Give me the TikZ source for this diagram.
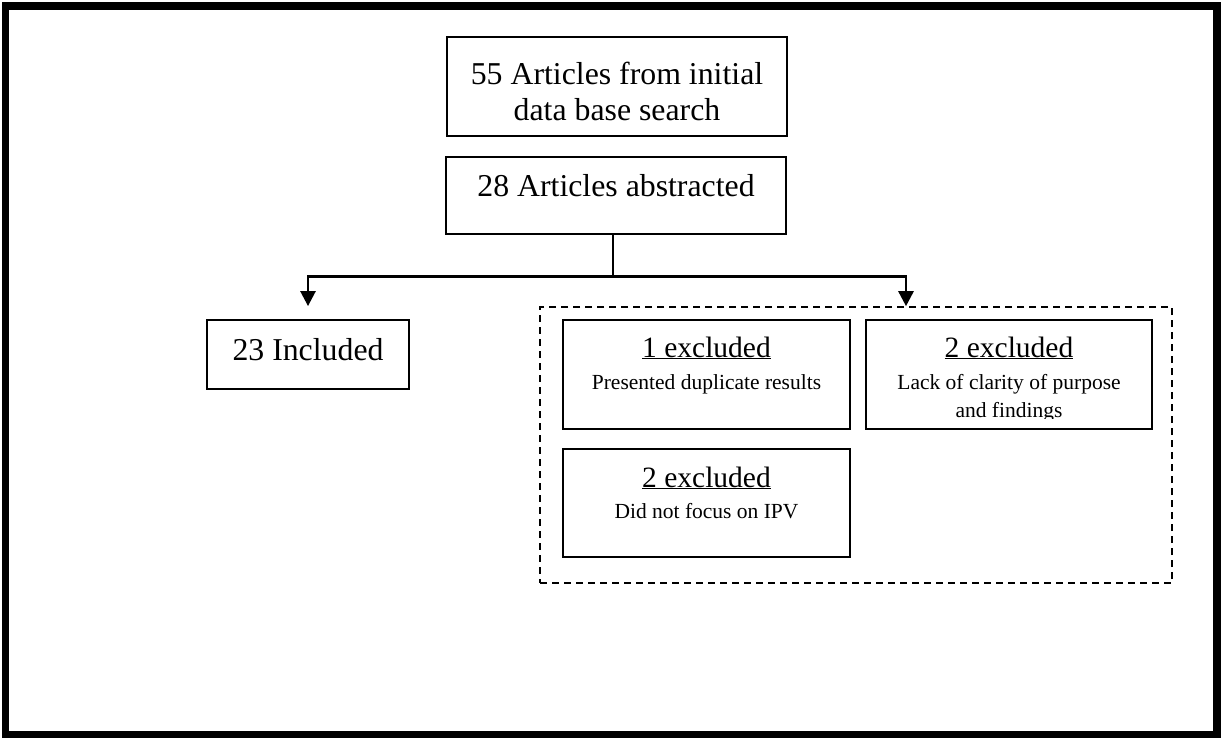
\documentclass[tikz,border=0pt]{standalone}
\usepackage{fontspec}
\setmainfont{Liberation Serif}
\usetikzlibrary{arrows.meta,calc}
\begin{document}
\begin{tikzpicture}[x=1pt,y=-1pt,
  box/.style={draw, line width=1.8pt, inner sep=0pt},
  bigtxt/.style={font=\fontsize{31.8}{36}\selectfont, anchor=base, inner sep=0pt},
  headtxt/.style={font=\fontsize{29.5}{34}\selectfont, anchor=base, inner sep=0pt},
  smalltxt/.style={font=\fontsize{21.5}{26}\selectfont, anchor=base, inner sep=0pt},
  link/.style={line width=2.6pt},
  arr/.style={link, -{Triangle[width=15pt,length=15pt]}},
  grpbox/.style={draw, line width=1.6pt, dash pattern=on 7pt off 5pt, inner sep=0pt}]
\useasboundingbox (0,0) rectangle (1221,738);
\fill[white] (0,0) rectangle (1221,738);
\draw[line width=7.5pt] (5.5,6) rectangle (1217,735);

% top boxes
\node[box, minimum width=340pt, minimum height=99pt] (search) at (617,86.5) {};
\node[bigtxt] (searchA) at (617,85) {55 Articles from initial};
\node[bigtxt] (searchB) at (617,121) {data base search};

\node[box, minimum width=340pt, minimum height=77pt] (abstr) at (616,195.5) {};
\node[bigtxt] (abstrT) at (616,197) {28 Articles abstracted};

% included
\node[box, minimum width=202pt, minimum height=69pt] (incl) at (308,354.5) {};
\node[bigtxt] (inclT) at (308,360) {23 Included};

% excluded group
\node[grpbox, minimum width=632pt, minimum height=276pt] (grp) at (856,445) {};

\node[box, minimum width=287pt, minimum height=109pt] (ex1) at (706.5,374.5) {};
\node[headtxt] (ex1h) at (706.5,357) {\underline{1 excluded}};
\node[smalltxt] (ex1t) at (706.5,389) {Presented duplicate results};

\node[box, minimum width=286pt, minimum height=109pt] (ex2) at (1009,374.5) {};
\node[headtxt] (ex2h) at (1009,357) {\underline{2 excluded}};
\node[smalltxt] (ex2t) at (1009,389) {Lack of clarity of purpose};
\begin{scope}
  \clip (866,320) rectangle (1152,418.5);
  \node[smalltxt] (ex2u) at (1009,417) {and findings};
\end{scope}

\node[box, minimum width=287pt, minimum height=108pt] (ex3) at (706.5,503) {};
\node[headtxt] (ex3h) at (706.5,487) {\underline{2 excluded}};
\node[smalltxt] (ex3t) at (706.5,518) {Did not focus on IPV};

% connectors
\coordinate (split) at (613,276.5);
\coordinate (incltip) at ($(incl.north)+(0,-13)$);
\coordinate (grptip) at ($(grp.north)+(50,0)$);
\draw[line width=1.5pt] (abstr.south -| split) -- (split);
\draw[arr] (split) -| (incltip);
\draw[arr] (split) -| (grptip);
\end{tikzpicture}
\end{document}
